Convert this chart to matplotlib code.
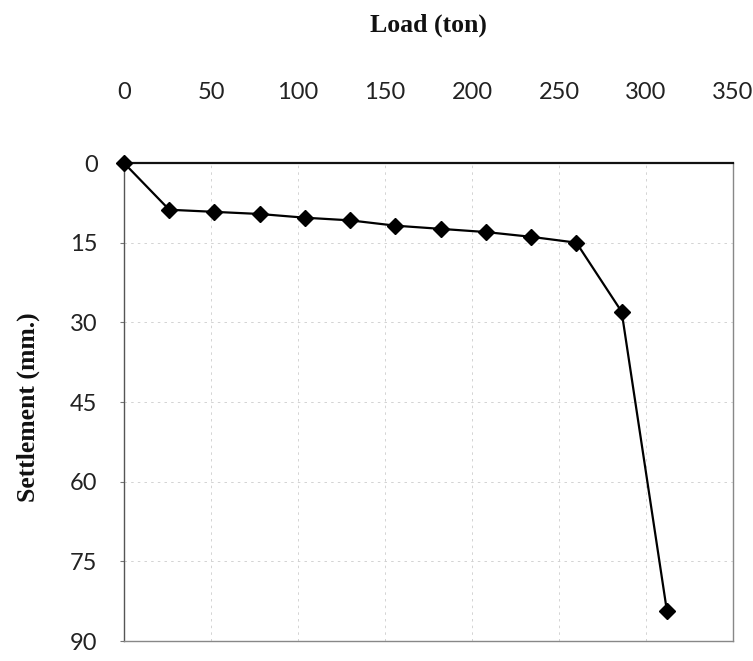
import matplotlib
matplotlib.use("Agg")
import matplotlib.pyplot as plt

# Data
load_ton = [0, 26, 52, 78, 104, 130, 156, 182, 208, 234, 260, 286, 312]
settlement_mm = [0, 8.8, 9.2, 9.6, 10.3, 10.8, 11.8, 12.4, 13.0, 13.9, 15.0, 28.0, 84.3]
x_ticks = [0, 50, 100, 150, 200, 250, 300, 350]
y_ticks = [0, 15, 30, 45, 60, 75, 90]

fig = plt.figure(figsize=(7.53, 6.61), dpi=100)
ax = fig.add_axes([124/753, 1-641/661, (733-124)/753, (641-163)/661])

ax.plot(load_ton, settlement_mm, color='black', lw=1.6, marker='D', ms=8,
        markerfacecolor='black', markeredgecolor='black', zorder=3, clip_on=False)

ax.set_xlim(0, 350)
ax.set_ylim(90, 0)
ax.set_xticks(x_ticks)
ax.set_yticks(y_ticks)

ax.xaxis.tick_top()
ax.xaxis.set_label_position('top')
ax.tick_params(axis='x', which='both', length=0, pad=43, labelsize=17,
               labelfontfamily='Lato', labelcolor='#222222')
ax.tick_params(axis='y', which='both', length=3, width=0.8, color='#777777',
               pad=16, labelsize=17, labelfontfamily='Lato', labelcolor='#222222')

ax.grid(True, color='#cccccc', lw=0.6, ls=(0, (3, 5)))

for s in ['right', 'bottom']:
    ax.spines[s].set_color('#888888')
    ax.spines[s].set_linewidth(1.0)
    ax.spines[s].set_linestyle((0, (1, 1)))
ax.spines['top'].set_color('#111111')
ax.spines['top'].set_linewidth(1.6)
ax.spines['left'].set_color('#555555')
ax.spines['left'].set_linewidth(1.0)

ax.set_xlabel('Load (ton)', fontsize=18.5, fontweight='bold',
              fontfamily='Liberation Serif', color='#111111', va='center')
ax.xaxis.set_label_coords(0.5, (641-25)/478)
ax.set_ylabel('Settlement (mm.)', fontsize=18.5, fontweight='bold',
              fontfamily='Liberation Serif', color='#111111', va='center')
ax.yaxis.set_label_coords((28-124)/609, (641-407)/478)

fig.savefig('out.png', dpi=100)
